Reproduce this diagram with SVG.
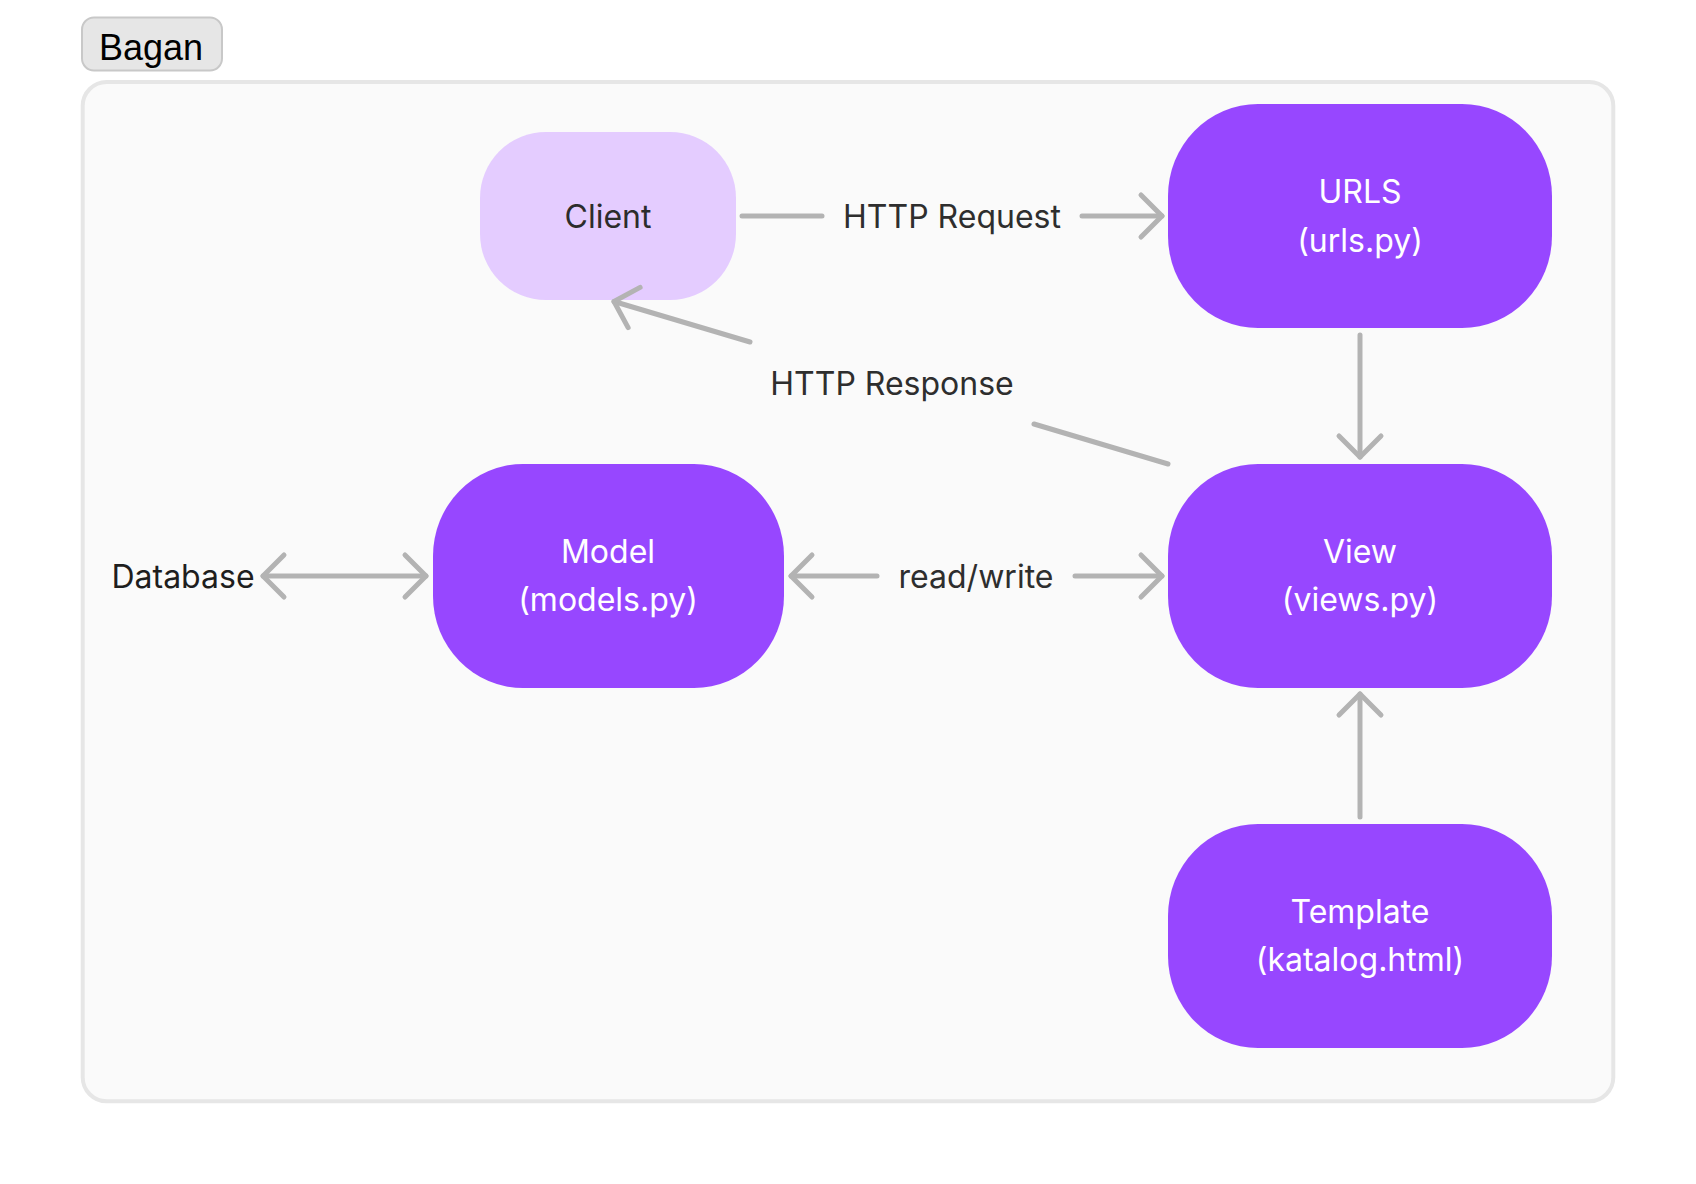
<svg xmlns="http://www.w3.org/2000/svg" width="1696" height="1184" viewBox="0 0 1696 1184">
<defs>
<style>
.node{fill:#9747FF}
.client{fill:#E4CCFF}
.nt{font-family:Inter,"Noto Sans",sans-serif;font-size:32px;fill:#FFFFFF;text-anchor:middle}
.lbl{font-family:Inter,"Noto Sans",sans-serif;font-size:32px;fill:#2E2E2E;text-anchor:middle}
.con{stroke:#B3B3B3;stroke-width:5;fill:none;stroke-linecap:round}
</style>
<marker id="ah" markerUnits="userSpaceOnUse" viewBox="-25 -25 30 50" markerWidth="30" markerHeight="50" refX="0" refY="0" orient="auto-start-reverse" overflow="visible">
<path d="M -21 -21 L 0 0 L -21 21" fill="none" stroke="#B3B3B3" stroke-width="5" stroke-linecap="round" stroke-linejoin="round"/>
</marker>
</defs>
<rect x="0" y="0" width="1696" height="1184" fill="#FFFFFF"/>
<g id="frame">
<rect x="82.7" y="82" width="1530.6" height="1019.3" rx="24" fill="#FAFAFA" stroke="#E6E6E6" stroke-width="4"/>
</g>
<g id="title">
<rect x="82" y="17.5" width="140" height="53" rx="12" fill="#E6E6E6" stroke="#C8C8C8" stroke-width="2"/>
<text x="151" y="60" font-family="Liberation Sans,Arial,sans-serif" font-size="36" fill="#000000" text-anchor="middle">Bagan</text>
</g>
<g id="database">
<text class="lbl" x="183" y="588" style="fill:#1E1E1E">Database</text>
</g>
<g id="client">
<rect class="client" x="480" y="132" width="256" height="168" rx="66" ry="66"/>
<text class="lbl" x="608" y="228" style="fill:#2C2C2C">Client</text>
</g>
<g id="urls">
<rect class="node" x="1168" y="104" width="384" height="224" rx="90" ry="92"/>
<text class="nt" x="1360" y="203">URLS</text>
<text class="nt" x="1360" y="252">(urls.py)</text>
</g>
<g id="view">
<rect class="node" x="1168" y="464" width="384" height="224" rx="90" ry="92"/>
<text class="nt" x="1360" y="563">View</text>
<text class="nt" x="1360" y="611">(views.py)</text>
</g>
<g id="model">
<rect class="node" x="433" y="464" width="351" height="224" rx="90" ry="92"/>
<text class="nt" x="608" y="563">Model</text>
<text class="nt" x="608" y="611">(models.py)</text>
</g>
<g id="template">
<rect class="node" x="1168" y="824" width="384" height="224" rx="90" ry="92"/>
<text class="nt" x="1360" y="923">Template</text>
<text class="nt" x="1360" y="971">(katalog.html)</text>
</g>
<g id="connectors">
<line class="con" x1="742" y1="216" x2="822" y2="216"/>
<line class="con" x1="1082" y1="216" x2="1162" y2="216" marker-end="url(#ah)"/>
<line class="con" x1="1360" y1="335" x2="1360" y2="457" marker-end="url(#ah)"/>
<line class="con" x1="1168" y1="464" x2="1034" y2="424"/>
<line class="con" x1="750" y1="342" x2="614" y2="301.5" marker-end="url(#ah)"/>
<line class="con" x1="877" y1="576" x2="791" y2="576" marker-end="url(#ah)"/>
<line class="con" x1="1075" y1="576" x2="1162" y2="576" marker-end="url(#ah)"/>
<line class="con" x1="263" y1="576" x2="426" y2="576" marker-start="url(#ah)" marker-end="url(#ah)"/>
<line class="con" x1="1360" y1="817" x2="1360" y2="694" marker-end="url(#ah)"/>
<text class="lbl" x="952" y="228">HTTP Request</text>
<text class="lbl" x="892" y="395">HTTP Response</text>
<text class="lbl" x="976" y="588">read/write</text>
</g>
</svg>
